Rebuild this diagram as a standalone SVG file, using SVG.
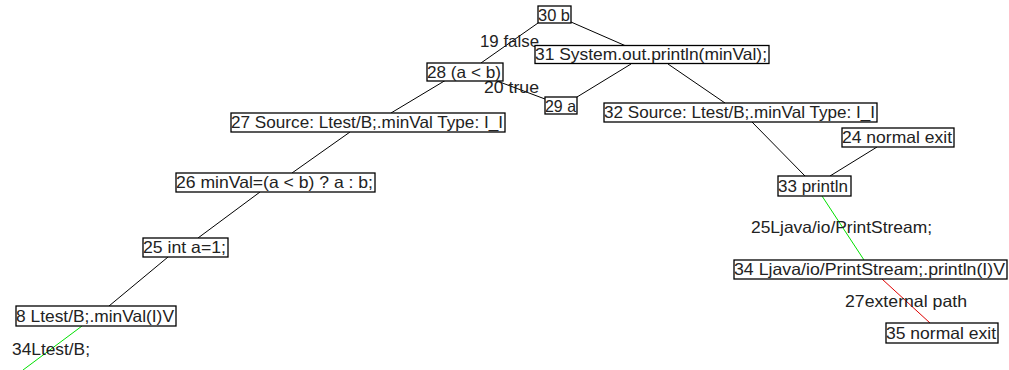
<svg xmlns="http://www.w3.org/2000/svg" width="1009" height="370" viewBox="0 0 1009 370">
<style>
.n rect{fill:#fff;stroke:#000;stroke-width:1.3}
text{font-family:"Liberation Sans",Arial,sans-serif;font-size:16.5px;fill:#222}
.e line{stroke:#000;stroke-width:1}
.g{stroke:#00e000 !important}
.r{stroke:#e00000 !important}
</style>
<rect width="1009" height="370" fill="#fff"/>
<g class="e" id="connectors">
<line x1="538" y1="23" x2="481" y2="63"/>
<line x1="571" y1="22" x2="626" y2="46"/>
<line x1="631" y1="64" x2="577" y2="97"/>
<line x1="668" y1="64" x2="725" y2="103"/>
<line x1="446" y1="80" x2="391" y2="113"/>
<line x1="497" y1="81" x2="545" y2="99"/>
<line x1="350" y1="132" x2="292" y2="173"/>
<line x1="260" y1="192" x2="198" y2="238"/>
<line x1="168" y1="257" x2="109" y2="306"/>
<line class="g" x1="82" y1="326" x2="23" y2="370"/>
<line x1="752" y1="122" x2="805" y2="176"/>
<line x1="877" y1="147" x2="830" y2="176"/>
<line class="g" x1="822" y1="196" x2="864" y2="260"/>
<line class="r" x1="882" y1="279" x2="930" y2="323"/>
</g>
<g id="labels">
<text x="480" y="47" textLength="59" lengthAdjust="spacingAndGlyphs">19 false</text>
<text x="484" y="93" textLength="55" lengthAdjust="spacingAndGlyphs">20 true</text>
<text x="751" y="233" textLength="181" lengthAdjust="spacingAndGlyphs">25Ljava/io/PrintStream;</text>
<text x="845" y="307" textLength="122" lengthAdjust="spacingAndGlyphs">27external path</text>
<text x="12" y="355" textLength="78" lengthAdjust="spacingAndGlyphs">34Ltest/B;</text>
</g>
<g class="n" id="n30"><rect x="538" y="6" width="33" height="17"/><text x="538" y="20.5" textLength="32" lengthAdjust="spacingAndGlyphs">30 b</text></g>
<g class="n" id="n31"><rect x="535" y="45.5" width="234" height="18"/><text x="535" y="60" textLength="232" lengthAdjust="spacingAndGlyphs">31 System.out.println(minVal);</text></g>
<g class="n" id="n28"><rect x="427" y="63" width="76" height="18"/><text x="427" y="78" textLength="74" lengthAdjust="spacingAndGlyphs">28 (a &lt; b)</text></g>
<g class="n" id="n29"><rect x="545" y="97" width="32" height="17"/><text x="545" y="111.5" textLength="31" lengthAdjust="spacingAndGlyphs">29 a</text></g>
<g class="n" id="n32"><rect x="604" y="103" width="273" height="19"/><text x="604" y="118" textLength="271" lengthAdjust="spacingAndGlyphs">32 Source: Ltest/B;.minVal Type: I_I</text></g>
<g class="n" id="n24"><rect x="842" y="128" width="112" height="19"/><text x="842" y="143" textLength="110" lengthAdjust="spacingAndGlyphs">24 normal exit</text></g>
<g class="n" id="n33"><rect x="778" y="176" width="73" height="20"/><text x="778" y="191.5" textLength="70" lengthAdjust="spacingAndGlyphs">33 println</text></g>
<g class="n" id="n27"><rect x="231" y="113" width="274" height="19"/><text x="231" y="128" textLength="272" lengthAdjust="spacingAndGlyphs">27 Source: Ltest/B;.minVal Type: I_I</text></g>
<g class="n" id="n26"><rect x="176" y="173" width="199" height="19"/><text x="176" y="188" textLength="197" lengthAdjust="spacingAndGlyphs">26 minVal=(a &lt; b) ? a : b;</text></g>
<g class="n" id="n25"><rect x="143" y="238" width="85" height="19"/><text x="143" y="253" textLength="83" lengthAdjust="spacingAndGlyphs">25 int a=1;</text></g>
<g class="n" id="n8"><rect x="16" y="306" width="160" height="20"/><text x="16" y="321.5" textLength="158" lengthAdjust="spacingAndGlyphs">8 Ltest/B;.minVal(I)V</text></g>
<g class="n" id="n34"><rect x="734" y="260" width="273" height="19"/><text x="734" y="275" textLength="271" lengthAdjust="spacingAndGlyphs">34 Ljava/io/PrintStream;.println(I)V</text></g>
<g class="n" id="n35"><rect x="886" y="323" width="112" height="20"/><text x="886" y="338.5" textLength="110" lengthAdjust="spacingAndGlyphs">35 normal exit</text></g>
</svg>
